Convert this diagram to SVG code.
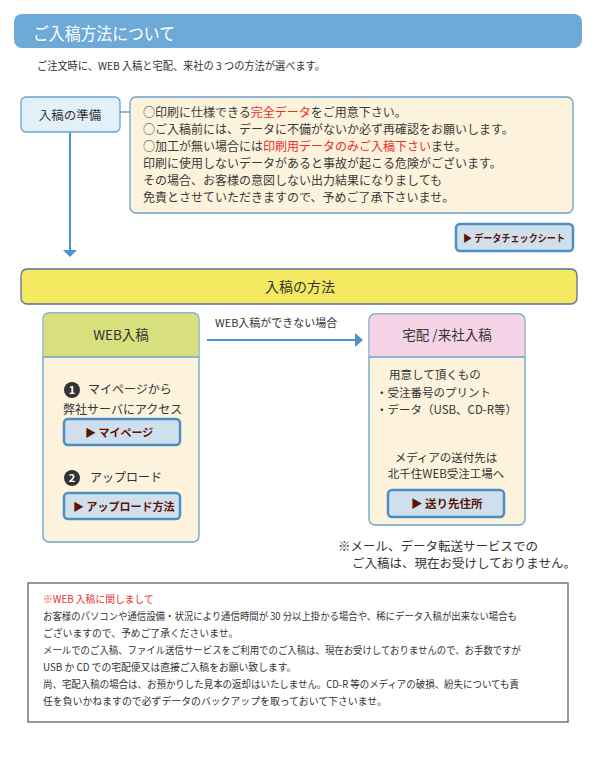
<svg xmlns="http://www.w3.org/2000/svg" width="595" height="775" viewBox="0 0 595 775">
<defs>
<style>
text{font-family:"Noto Sans CJK JP","Liberation Sans",sans-serif;fill:#333}
.box{stroke:#6aa3cc;stroke-width:1.3}
.body{font-size:12px;fill:#3a3a3a}
.small{font-size:9.8px;fill:#333}
.red{fill:#e8302a}
.btn{fill:#cfdfec;stroke:#4a8fc8;stroke-width:2.5}
.btnt{font-size:10.5px;font-weight:bold;fill:#5c1406}
.conn{stroke:#4f94c8;stroke-width:2;fill:none}
.arrow{fill:#4f94c8}
.num{fill:#333}
.numt{fill:#fff;font-size:11px;font-weight:bold;text-anchor:middle}
</style>
</defs>
<rect width="595" height="775" fill="#fff"/>
<g id="title">
<rect x="14" y="14" width="568" height="34" rx="8" fill="#6eaad8"/>
<text x="33" y="40" style="font-size:17.5px;fill:#fff" textLength="142" lengthAdjust="spacingAndGlyphs">ご入稿方法について</text>
<text x="37" y="70" style="font-size:11px;fill:#333" textLength="288" lengthAdjust="spacingAndGlyphs">ご注文時に、WEB 入稿と宅配、来社の 3 つの方法が選べます。</text>
</g>
<g id="connectors">
<line class="conn" x1="120" y1="112" x2="130" y2="112" style="stroke-width:1.3"/>
<line class="conn" x1="70" y1="132" x2="70" y2="251"/>
<polygon class="arrow" points="63,250 77,250 70,257"/>
<line class="conn" x1="207" y1="340" x2="356" y2="340"/>
<polygon class="arrow" points="355,333 355,347 363,340"/>
<text x="215" y="327" style="font-size:11px">WEB入稿ができない場合</text>
<line class="conn" x1="123" y1="446" x2="123" y2="460"/>
<polygon class="arrow" points="117,459 129,459 123,466"/>
</g>
<g id="prep">
<rect class="box" x="21" y="97" width="99" height="35" rx="5" fill="#e2f0fa"/>
<text x="70" y="120" style="font-size:12.5px;text-anchor:middle">入稿の準備</text>
</g>
<g id="prep-note">
<rect class="box" x="130" y="97" width="443" height="116" rx="6" fill="#fdf2dc"/>
<text class="body" x="143" y="117">○印刷に仕様できる<tspan class="red">完全データ</tspan>をご用意下さい。</text>
<text class="body" x="143" y="134">○ご入稿前には、データに不備がないか必ず再確認をお願いします。</text>
<text class="body" x="143" y="151">○加工が無い場合には<tspan class="red">印刷用データのみご入稿下さい</tspan>ませ。</text>
<text class="body" x="143" y="168">印刷に使用しないデータがあると事故が起こる危険がございます。</text>
<text class="body" x="143" y="185">その場合、お客様の意図しない出力結果になりましても</text>
<text class="body" x="143" y="202">免責とさせていただきますので、予めご了承下さいませ。</text>
</g>
<g id="btn-check">
<rect class="btn" x="456" y="224" width="117" height="27" rx="4"/>
<text class="btnt" x="463" y="242" style="font-size:10px" textLength="102" lengthAdjust="spacingAndGlyphs">▶ データチェックシート</text>
</g>
<g id="method">
<rect x="21" y="269" width="556" height="35" rx="6" fill="#f4e960" stroke="#5d6fa0" stroke-width="1.3"/>
<text x="300" y="292" style="font-size:14px;text-anchor:middle">入稿の方法</text>
</g>
<g id="web">
<rect class="box" x="43" y="313" width="156" height="229" rx="6" fill="#fdf2dc"/>
<path d="M43.6,357 V319 a5.4,5.4 0 0 1 5.4,-5.4 H193 a5.4,5.4 0 0 1 5.4,5.4 V357 Z" fill="#d8e07e"/>
<line x1="43" y1="357" x2="199" y2="357" stroke="#6aa3cc" stroke-width="1.3"/>
<text x="121" y="340" style="font-size:13.5px;text-anchor:middle">WEB入稿</text>
<circle class="num" cx="72" cy="390" r="8"/>
<text class="numt" x="72" y="394">1</text>
<text x="88" y="394" style="font-size:12px">マイページから</text>
<text x="63" y="414" style="font-size:12px">弊社サーバにアクセス</text>
<circle class="num" cx="72" cy="478" r="8"/>
<text class="numt" x="72" y="482">2</text>
<text x="90" y="482" style="font-size:12px">アップロード</text>
</g>
<g id="btn-mypage">
<rect class="btn" x="64" y="419" width="116" height="26" rx="4"/>
<text class="btnt" x="85" y="437" style="font-size:11px">▶ マイページ</text>
</g>
<g id="btn-upload">
<rect class="btn" x="64" y="493" width="116" height="26" rx="4"/>
<text class="btnt" x="73" y="511" style="font-size:11px">▶ アップロード方法</text>
</g>
<g id="delivery">
<rect class="box" x="369" y="314" width="156" height="211" rx="6" fill="#fdf2dc"/>
<path d="M369.6,357 V320 a5.4,5.4 0 0 1 5.4,-5.4 H519 a5.4,5.4 0 0 1 5.4,5.4 V357 Z" fill="#f6d3e6"/>
<line x1="369" y1="357" x2="525" y2="357" stroke="#6aa3cc" stroke-width="1.3"/>
<text x="447" y="340" style="font-size:13.5px;text-anchor:middle">宅配 /来社入稿</text>
<text x="389" y="379" style="font-size:11.5px">用意して頂くもの</text>
<text x="376" y="397" style="font-size:11.5px">・受注番号のプリント</text>
<text x="376" y="414" style="font-size:11.5px">・データ（USB、CD-R等）</text>
<text x="446" y="462" style="font-size:11.5px;text-anchor:middle">メディアの送付先は</text>
<text x="446" y="478" style="font-size:11.5px;text-anchor:middle">北千住WEB受注工場へ</text>
</g>
<g id="btn-address">
<rect class="btn" x="388" y="490" width="116" height="27" rx="4"/>
<text class="btnt" x="411" y="508" style="font-size:11.5px">▶ 送り先住所</text>
</g>
<g id="note">
<text x="338" y="551" style="font-size:12.5px">※メール、データ転送サービスでの</text>
<text x="352" y="568" style="font-size:12.5px">ご入稿は、現在お受けしておりません。</text>
</g>
<g id="web-notice">
<rect x="28" y="583" width="540" height="139" fill="#fff" stroke="#777" stroke-width="1.5"/>
<text class="small red" x="43" y="603">※WEB 入稿に関しまして</text>
<text class="small" x="43" y="620" textLength="474" lengthAdjust="spacingAndGlyphs">お客様のパソコンや通信設備・状況により通信時間が 30 分以上掛かる場合や、稀にデータ入稿が出来ない場合も</text>
<text class="small" x="43" y="637">ございますので、予めご了承くださいませ。</text>
<text class="small" x="43" y="654" textLength="478" lengthAdjust="spacingAndGlyphs">メールでのご入稿、ファイル送信サービスをご利用でのご入稿は、現在お受けしておりませんので、お手数ですが</text>
<text class="small" x="43" y="671">USB か CD での宅配便又は直接ご入稿をお願い致します。</text>
<text class="small" x="43" y="688" textLength="476" lengthAdjust="spacingAndGlyphs">尚、宅配入稿の場合は、お預かりした見本の返却はいたしません。CD-R 等のメディアの破損、紛失についても責</text>
<text class="small" x="43" y="705" textLength="344" lengthAdjust="spacingAndGlyphs">任を負いかねますので必ずデータのバックアップを取っておいて下さいませ。</text>
</g>
</svg>
